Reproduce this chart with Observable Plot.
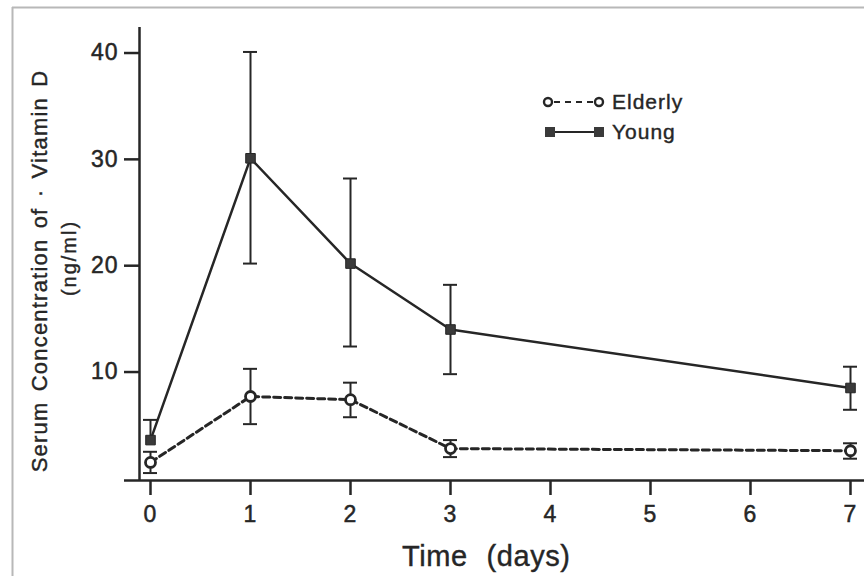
<!DOCTYPE html>
<html><head><meta charset="utf-8">
<script src="https://cdn.jsdelivr.net/npm/d3@7"></script>
<script src="https://cdn.jsdelivr.net/npm/@observablehq/plot@0.6"></script>
<style>body{margin:0;background:#fff;} svg{display:block;}</style>
</head><body><div id="chart"></div>
<script>
const days = [0, 1, 2, 3, 7];
const youngMean = [3.6, 30.1, 20.2, 14.0, 8.5];
const youngLow = [3.6, 20.2, 12.4, 9.8, 6.45];
const youngHigh = [5.5, 40.1, 28.2, 18.2, 10.5];
const elderlyMean = [1.5, 7.7, 7.4, 2.8, 2.6];
const elderlyLow = [0.5, 5.1, 5.75, 2.0, 1.85];
const elderlyHigh = [2.5, 10.3, 9.0, 3.6, 3.3];
const xTicks = [0, 1, 2, 3, 4, 5, 6, 7];
const yTicks = [10, 20, 30, 40];
const seriesNames = ["Elderly", "Young"];

const young = days.map((d, i) => ({day: d, mean: youngMean[i], low: youngLow[i], high: youngHigh[i]}));
const elderly = days.map((d, i) => ({day: d, mean: elderlyMean[i], low: elderlyLow[i], high: elderlyHigh[i]}));
const ink = "#262626";
const font = "'Liberation Sans', Arial, Helvetica, sans-serif";
const capHalf = 0.07;

function errorMarks(data) {
  const lows = data.filter(d => d.low < d.mean - 0.01);
  const highs = data.filter(d => d.high > d.mean + 0.01);
  return [
    Plot.ruleX(data, {x: "day", y1: "low", y2: "high", stroke: ink, strokeWidth: 2}),
    Plot.ruleY(lows, {y: "low", x1: d => d.day - capHalf, x2: d => d.day + capHalf, stroke: ink, strokeWidth: 2}),
    Plot.ruleY(highs, {y: "high", x1: d => d.day - capHalf, x2: d => d.day + capHalf, stroke: ink, strokeWidth: 2})
  ];
}

const chart = Plot.plot({
  width: 864,
  height: 576,
  marginLeft: 124,
  marginRight: 0,
  marginTop: 27,
  marginBottom: 96,
  style: {fontFamily: font, background: "#fff", color: ink},
  x: {domain: [-0.26, 7.14]},
  y: {domain: [-0.2, 42.4]},
  marks: [
    Plot.ruleX([-0.11], {stroke: ink, strokeWidth: 2.5}),
    Plot.ruleY([-0.2], {stroke: ink, strokeWidth: 2.5}),
    Plot.axisY(yTicks, {dx: 15, tickSize: 15, tickPadding: 6, strokeWidth: 2.5, fontSize: 23, label: null, tickFormat: d => d}),
    Plot.axisX(xTicks, {tickSize: 15, tickPadding: 10, strokeWidth: 2.5, fontSize: 23, label: null, tickFormat: d => d}),
    Plot.line(young, {x: "day", y: "mean", stroke: ink, strokeWidth: 2.5}),
    Plot.line(elderly, {x: "day", y: "mean", stroke: ink, strokeWidth: 3, strokeDasharray: "7,4"}),
    ...errorMarks(young),
    ...errorMarks(elderly),
    Plot.dot(young, {x: "day", y: "mean", symbol: "square", r: 5.4, fill: "#3a3a3a", stroke: ink, strokeWidth: 1}),
    Plot.dot(elderly, {x: "day", y: "mean", symbol: "circle", r: 5, fill: "#fff", stroke: ink, strokeWidth: 2.8})
  ]
});

document.getElementById("chart").appendChild(chart);

const svg = d3.select(chart);
svg.selectAll("text").attr("stroke", ink).attr("stroke-width", 0.5).style("letter-spacing", "1px");

// frame of the scanned picture
svg.append("line").attr("x1", 12).attr("x2", 864).attr("y1", 7.5).attr("y2", 7.5).attr("stroke", "#b8b8b8").attr("stroke-width", 2);
svg.append("line").attr("x1", 12.5).attr("x2", 12.5).attr("y1", 7).attr("y2", 576).attr("stroke", "#b8b8b8").attr("stroke-width", 2);

// axis titles
svg.append("text").attr("x", 402).attr("y", 566).attr("text-anchor", "start")
  .attr("font-family", font).style("font-size", "29px").attr("fill", ink)
  .attr("stroke", ink).attr("stroke-width", 0.4)
  .style("word-spacing", "10px").style("letter-spacing", "0.6px")
  .text("Time (days)");
svg.append("text").attr("transform", "translate(47,271) rotate(-90)")
  .attr("text-anchor", "middle").attr("font-family", font).style("font-size", "22px").attr("fill", ink)
  .attr("stroke", ink).attr("stroke-width", 0.4)
  .style("letter-spacing", "1.2px").style("word-spacing", "3px")
  .text("Serum Concentration of · Vitamin D");
svg.append("text").attr("transform", "translate(76,258) rotate(-90)")
  .attr("text-anchor", "middle").attr("font-family", font).style("font-size", "20px").attr("fill", ink)
  .attr("stroke", ink).attr("stroke-width", 0.4)
  .style("letter-spacing", "2px")
  .text("(ng/ml)");

// legend
const lg = svg.append("g");
lg.append("line").attr("x1", 548).attr("x2", 599).attr("y1", 102).attr("y2", 102)
  .attr("stroke", ink).attr("stroke-width", 2.2).attr("stroke-dasharray", "6,5").attr("stroke-dashoffset", -6);
[548, 599].forEach(x => lg.append("circle").attr("cx", x).attr("cy", 102).attr("r", 4).attr("fill", "#fff").attr("stroke", ink).attr("stroke-width", 2.4));
lg.append("line").attr("x1", 550).attr("x2", 599).attr("y1", 132).attr("y2", 132)
  .attr("stroke", ink).attr("stroke-width", 2);
[550, 599].forEach(x => lg.append("rect").attr("x", x - 5).attr("y", 127).attr("width", 10).attr("height", 10).attr("fill", "#3a3a3a"));
lg.append("text").attr("x", 612).attr("y", 109).attr("text-anchor", "start").attr("font-family", font).style("font-size", "21px").attr("fill", ink)
  .attr("stroke", ink).attr("stroke-width", 0.4)
  .style("letter-spacing", "1px").text(seriesNames[0]);
lg.append("text").attr("x", 612).attr("y", 139).attr("text-anchor", "start").attr("font-family", font).style("font-size", "21px").attr("fill", ink)
  .attr("stroke", ink).attr("stroke-width", 0.4)
  .style("letter-spacing", "1px").text(seriesNames[1]);
</script></body></html>
